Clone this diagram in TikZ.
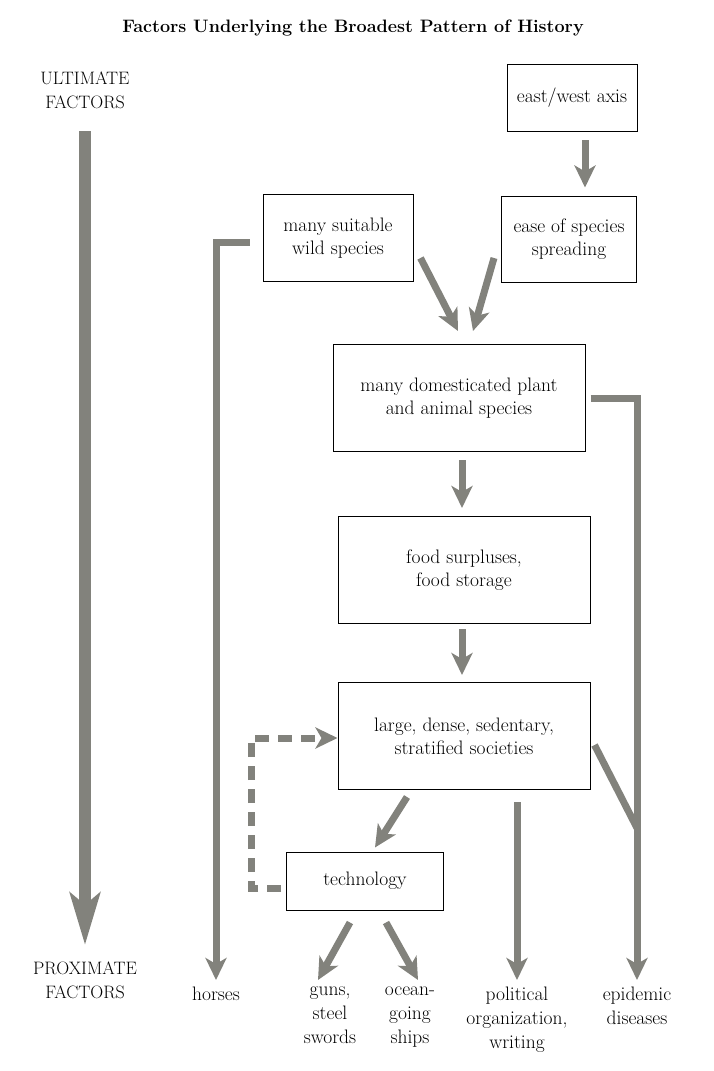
\documentclass[tikz,border=0pt]{standalone}
\usepackage{tikz}
\usetikzlibrary{arrows.meta,positioning}
\definecolor{arrowgray}{RGB}{130,130,124}
\tikzstyle{factor}=[rectangle,draw=black,line width=1pt,align=center,inner sep=2pt,
                    font=\fontsize{19.5}{23}\selectfont]
\tikzstyle{outcome}=[align=center,anchor=north,inner sep=0pt,font=\fontsize{19.5}{24}\selectfont]
\tikzstyle{level}=[align=center,anchor=north,inner sep=0pt,font=\fontsize{18}{24}\selectfont]
\tikzstyle{flow}=[draw=arrowgray,line width=7pt,line join=miter,
                  -{Stealth[length=22pt,width=21pt,inset=6pt,fill=arrowgray]}]
\tikzstyle{link}=[draw=arrowgray,line width=7pt]

\begin{document}
\begin{tikzpicture}[x=1pt,y=-1pt]
    \useasboundingbox (0,0) rectangle (713,1071);

    \node[font=\fontsize{18}{22}\selectfont\bfseries] (title) at (353,28)
        {Factors Underlying the Broadest Pattern of History};
    \node[level] (ultimate) at (85,72) {ULTIMATE\\FACTORS};
    \node[level] (proximate) at (85,962) {PROXIMATE\\FACTORS};

    % boxes
    \node[factor,minimum width=130,minimum height=67]  (axis)     at (572,98)  {east/west axis};
    \node[factor,minimum width=135,minimum height=86]  (spread)   at (569,239) {ease of species\\spreading};
    \node[factor,minimum width=150,minimum height=87]  (wild)     at (338,238) {many suitable\\wild species};
    \node[factor,minimum width=252,minimum height=107] (domestic) at (459,398) {many domesticated plant\\and animal species};
    \node[factor,minimum width=252,minimum height=107] (food)     at (464,570) {food surpluses,\\food storage};
    \node[factor,minimum width=252,minimum height=107] (society)  at (464,736) {large, dense, sedentary,\\stratified societies};
    \node[factor,minimum width=157,minimum height=58]  (tech)     at (365,881) {technology};

    % proximate outcomes
    \node[outcome] (horses)    at (216,987) {horses};
    \node[outcome] (guns)      at (330,987) {guns,\\steel\\swords};
    \node[outcome] (ships)     at (410,987) {ocean-\\going\\ships};
    \node[outcome] (political) at (517,987) {political\\organization,\\writing};
    \node[outcome] (epidemic)  at (637,987) {epidemic\\diseases};
    \coordinate (join) at (637,828);

    % big ultimate -> proximate arrow
    \draw[draw=arrowgray,line width=12pt,
          -{Stealth[length=52pt,width=30pt,inset=12pt,fill=arrowgray]}]
        ([yshift=-22pt]ultimate.south) -- ([yshift=17pt]proximate.north);

    \draw[flow] ([xshift=13pt,yshift=-8pt]axis.south) -- ([xshift=16pt,yshift=8pt]spread.north);
    \draw[flow] ([xshift=7pt,yshift=-20pt]wild.east) -- ([xshift=-1pt,yshift=13pt]domestic.north);
    \draw[flow] ([xshift=-7pt,yshift=-19pt]spread.west) -- ([xshift=14pt,yshift=13pt]domestic.north);
    \draw[flow,shorten <=13pt] ([yshift=-4pt]wild.west) -| ([yshift=7pt]horses.north);
    \draw[flow,shorten <=5pt] (domestic.east) -| ([yshift=7pt]epidemic.north);
    \draw[flow] ([xshift=3pt,yshift=-8pt]domestic.south) -- ([xshift=-2pt,yshift=8pt]food.north);
    \draw[flow] ([xshift=-2pt,yshift=-5pt]food.south) -- ([xshift=-2pt,yshift=7pt]society.north);
    \draw[link] ([xshift=4pt,yshift=-9pt]society.east) -- (join);
    \draw[flow] ([xshift=-57pt,yshift=-7pt]society.south) -- ([xshift=10pt,yshift=4pt]tech.north);
    \draw[flow] ([xshift=53pt,yshift=-12pt]society.south) -- ([yshift=7pt]political.north);
    \draw[flow] ([xshift=-15pt,yshift=-12pt]tech.south) -- ([xshift=-12pt,yshift=7pt]guns.north);
    \draw[flow] ([xshift=21pt,yshift=-12pt]tech.south) -- ([xshift=8pt,yshift=7pt]ships.north);

    % feedback from technology
    \draw[flow,dash pattern=on 14pt off 9pt,shorten <=5pt]
        ([yshift=-7pt]tech.west) -- ++(-35,0) |- ([yshift=-2pt]society.west);
\end{tikzpicture}
\end{document}
